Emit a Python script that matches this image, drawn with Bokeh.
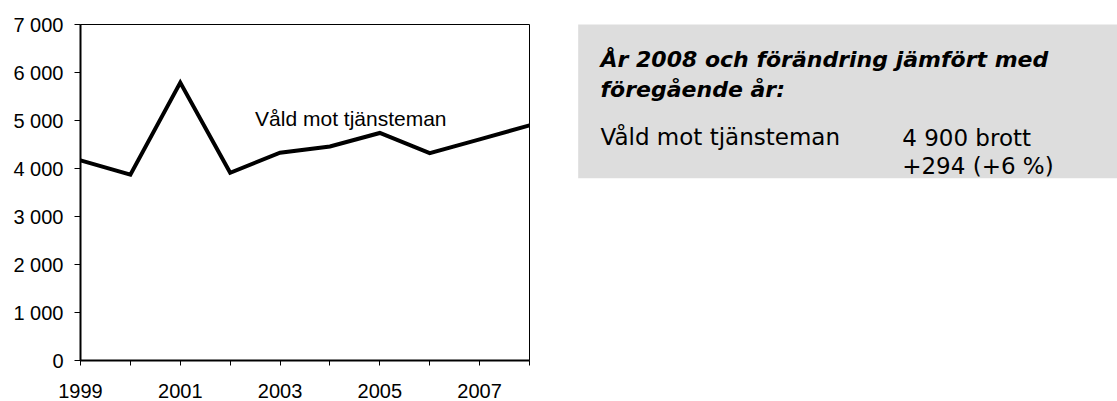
from bokeh.plotting import figure
from bokeh.models import Range1d, FixedTicker, Label, BoxAnnotation
from bokeh.layouts import row
from bokeh.embed import file_html
from bokeh.resources import INLINE

# ---- data ----
years = [1999, 2000, 2001, 2002, 2003, 2004, 2005, 2006, 2007, 2008]
values = [4170, 3870, 5790, 3910, 4330, 4460, 4740, 4320, 4606, 4900]
series_name = "Våld mot tjänsteman"
y_ticks = [0, 1000, 2000, 3000, 4000, 5000, 6000, 7000]
y_tick_labels = ["0", "1 000", "2 000", "3 000", "4 000", "5 000", "6 000", "7 000"]
x_tick_labels = ["1999", "", "2001", "", "2003", "", "2005", "", "2007", ""]

panel_title = ["År 2008 och förändring jämfört med", "föregående år:"]
panel_category = "Våld mot tjänsteman"
panel_value = "4 900 brott"
panel_change = "+294 (+6 %)"

FONT = "Liberation Sans"
H = 401
TOP, BOTTOM = 24, 41

# ---- chart ----
p = figure(width=560, height=H,
           x_range=Range1d(years[0], years[-1]), y_range=Range1d(0, 7000),
           toolbar_location=None, output_backend="svg",
           min_border_left=80, min_border_right=31,
           min_border_top=TOP, min_border_bottom=BOTTOM)
p.grid.visible = False
p.outline_line_color = "black"
p.outline_line_width = 1
p.background_fill_color = "white"
p.border_fill_color = "white"

p.line(years, values, line_color="black", line_width=4, line_join="miter")

p.xaxis.ticker = FixedTicker(ticks=years)
p.xaxis.major_label_overrides = {y: s for y, s in zip(years, x_tick_labels)}
p.yaxis.ticker = FixedTicker(ticks=y_ticks)
p.yaxis.major_label_overrides = {t: s for t, s in zip(y_ticks, y_tick_labels)}

for ax in (p.xaxis[0], p.yaxis[0]):
    ax.axis_line_color = "black"
    ax.axis_line_width = 2
    ax.major_tick_line_color = "black"
    ax.major_tick_line_width = 1
    ax.major_tick_in = 0
    ax.minor_tick_line_color = None
    ax.major_label_text_font = FONT
    ax.major_label_text_font_size = "20px"
    ax.major_label_text_color = "black"

p.xaxis.major_tick_out = 5
p.xaxis.major_label_standoff = 18
p.yaxis.major_tick_out = 6
p.yaxis.major_label_standoff = 11

p.add_layout(Label(x=2002.5, y=5035, text=series_name, text_font=FONT,
                   text_font_size="21px", text_color="black",
                   text_baseline="alphabetic", text_align="left"))

# ---- info panel (data units = page pixels) ----
X0, X1 = 560, 1117
p2 = figure(width=X1 - X0, height=H,
            x_range=Range1d(X0, X1), y_range=Range1d(H - BOTTOM, TOP),
            toolbar_location=None, output_backend="svg",
            x_axis_type=None, y_axis_type=None,
            min_border_left=0, min_border_right=0,
            min_border_top=TOP, min_border_bottom=BOTTOM)
p2.grid.visible = False
p2.outline_line_color = None
p2.background_fill_color = "white"
p2.border_fill_color = "white"

p2.add_layout(BoxAnnotation(left=577.7, right=X1, top=22.3, bottom=177.7,
                            fill_color="#DDDDDD", fill_alpha=1.0, line_color=None))

PFONT = "DejaVu Sans"
for i, line in enumerate(panel_title):
    p2.add_layout(Label(x=600, y=58.5 + 30.5 * i, text=line, text_font=PFONT,
                        text_font_size="22px", text_font_style="bold italic",
                        text_color="black", text_baseline="alphabetic"))
p2.add_layout(Label(x=600, y=136.7, text=panel_category, text_font=PFONT,
                    text_font_size="23px", text_color="black",
                    text_baseline="alphabetic"))
p2.add_layout(Label(x=901.7, y=137.3, text=panel_value, text_font=PFONT,
                    text_font_size="23px", text_color="black",
                    text_baseline="alphabetic"))
p2.add_layout(Label(x=901.7, y=165, text=panel_change, text_font=PFONT,
                    text_font_size="23px", text_color="black",
                    text_baseline="alphabetic"))

layout = row(p, p2)
open("out.html", "w").write(file_html(layout, INLINE))
